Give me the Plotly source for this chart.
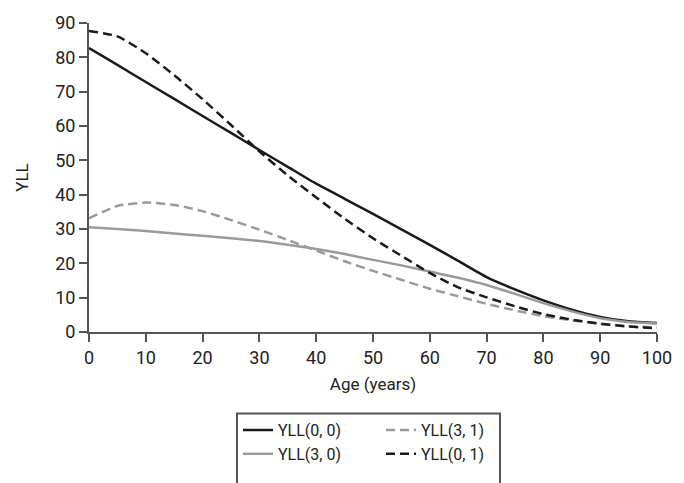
import plotly.graph_objects as go

age = [0, 5, 10, 15, 20, 25, 30, 35, 40, 45, 50, 55, 60, 65, 70, 75, 80, 85, 90, 95, 100]

yll_0_0 = [82.7, 77.8, 72.8, 67.9, 62.9, 58.0, 53.0, 48.1, 43.2, 38.8, 34.4, 29.9, 25.4, 20.7, 16.0, 12.4, 9.2, 6.5, 4.4, 3.1, 2.6]
yll_3_0 = [30.5, 30.0, 29.4, 28.7, 28.0, 27.3, 26.5, 25.4, 24.2, 22.7, 21.0, 19.4, 17.6, 15.8, 13.7, 11.1, 8.4, 6.0, 4.0, 2.9, 2.5]
yll_3_1 = [33.1, 36.7, 37.7, 37.0, 35.2, 32.6, 29.8, 26.8, 23.7, 20.6, 17.8, 15.2, 12.6, 10.4, 8.2, 6.3, 4.6, 3.4, 2.4, 1.7, 1.3]
yll_0_1 = [87.7, 86.1, 81.2, 74.8, 67.8, 60.3, 52.6, 45.6, 39.2, 33.0, 27.3, 22.2, 17.2, 13.0, 10.1, 7.5, 5.2, 3.6, 2.4, 1.6, 1.1]

x_ticks = [0, 10, 20, 30, 40, 50, 60, 70, 80, 90, 100]
y_ticks = [0, 10, 20, 30, 40, 50, 60, 70, 80, 90]

FONT = "Roboto, Liberation Sans, sans-serif"
BLACK = "#1a1a1a"
GRAY = "#9a9a9a"
AXIS = "#555555"

fig = go.Figure()

def add(name, y, color, dash, legend):
    fig.add_trace(go.Scatter(
        x=age, y=y, name=name, mode="lines",
        line=dict(color=color, width=2.5, dash=dash, shape="spline", smoothing=0.6),
        legend=legend,
    ))

add("YLL(0, 0)", yll_0_0, BLACK, "solid", "legend")
add("YLL(3, 0)", yll_3_0, GRAY, "solid", "legend")
add("YLL(3, 1)", yll_3_1, GRAY, "9px,5px", "legend2")
add("YLL(0, 1)", yll_0_1, BLACK, "9px,5px", "legend2")

W, H = 684, 483
L, R, T, B = 89, 27, 17, 146
pw, ph = W - L - R, H - T - B

def px2x(px):
    return (px - L) / pw

def py2y(py):
    return (H - B - py) / ph

legend_common = dict(
    orientation="v", xanchor="left", yanchor="top",
    bgcolor="rgba(0,0,0,0)", borderwidth=0,
    font=dict(family=FONT, size=16, color="#222222"),
    tracegroupgap=0, itemwidth=30,
)

fig.update_layout(
    width=W, height=H,
    margin=dict(l=L, r=R, t=T, b=B),
    paper_bgcolor="white", plot_bgcolor="white",
    font=dict(family=FONT, size=17, color="#222222"),
    showlegend=True,
    legend=dict(x=px2x(238), y=py2y(421), **legend_common),
    legend2=dict(x=px2x(381), y=py2y(421), **legend_common),
    xaxis=dict(
        range=[0, 100], tickvals=x_ticks, ticktext=[str(v) for v in x_ticks],
        showgrid=False, zeroline=False, showline=True, linecolor=AXIS, linewidth=2,
        ticks="outside", ticklen=8, tickwidth=2, tickcolor=AXIS,
        title=dict(text="Age (years)", standoff=12, font=dict(size=17)),
        tickfont=dict(size=18),
    ),
    yaxis=dict(
        range=[0, 90], tickvals=y_ticks, ticktext=[str(v) for v in y_ticks],
        showgrid=False, zeroline=False, showline=True, linecolor=AXIS, linewidth=2,
        ticks="outside", ticklen=8, tickwidth=2, tickcolor=AXIS,
        title=dict(text="YLL", standoff=22, font=dict(size=17)),
        tickfont=dict(size=18),
    ),
    shapes=[dict(
        type="rect", xref="paper", yref="paper",
        x0=px2x(237), x1=px2x(500), y0=py2y(421.5), y1=py2y(495),
        line=dict(color=AXIS, width=2), fillcolor="rgba(0,0,0,0)", layer="above",
    )],
)

fig.write_html("out.html")
